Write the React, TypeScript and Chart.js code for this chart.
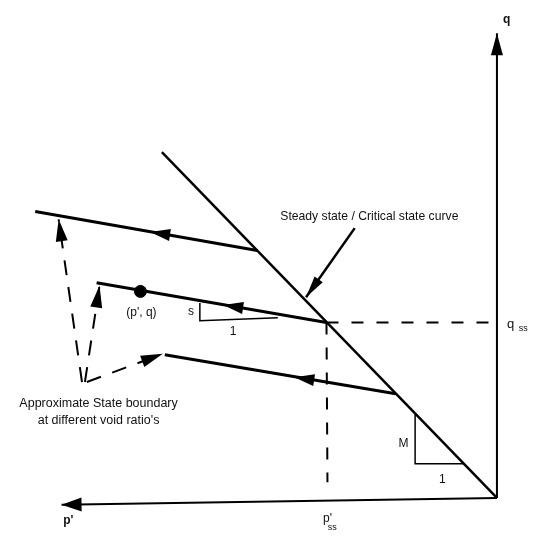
import React, { useEffect, useRef } from "react";
import { Chart, registerables } from "chart.js";

Chart.register(...registerables);

// Diagram coordinates: p' grows to the left from the origin, q grows upward.
const qAxis = [{ x: 0, y: 0 }, { x: 0, y: 477 }];
const pAxis = [{ x: 0, y: 0 }, { x: 447, y: -7 }];
const criticalStateLine = [{ x: 0, y: 0 }, { x: 344, y: 355 }];
const boundaryUpper = [{ x: 474, y: 294 }, { x: 246, y: 254 }];
const boundaryMiddle = [{ x: 411, y: 221 }, { x: 175, y: 180 }];
const boundaryLower = [{ x: 341, y: 147 }, { x: 104, y: 107 }];
const pathArrowUpper = [{ x: 336, y: 270 }, { x: 356, y: 273 }];
const pathArrowMiddle = [{ x: 261, y: 195 }, { x: 281, y: 198 }];
const pathArrowLower = [{ x: 188, y: 121 }, { x: 208, y: 124 }];
const statePoint = [{ x: 366, y: 212 }];
const qssLine = [{ x: 175, y: 180 }, { x: 8, y: 180 }];
const pssLine = [{ x: 175, y: 180 }, { x: 174, y: 16 }];
const slopeS = [{ x: 305, y: 200 }, { x: 305, y: 182 }, { x: 225, y: 185 }];
const slopeM = [{ x: 84, y: 86 }, { x: 84, y: 35 }, { x: 33, y: 35 }];
const vPoint = { x: 426, y: 119 };
const dashArrowUpper = [vPoint, { x: 450, y: 286 }];
const dashArrowMiddle = [{ x: 423, y: 119 }, { x: 408, y: 218 }];
const dashArrowLower = [{ x: 421, y: 119 }, { x: 343, y: 148 }];
const cslPointer = [{ x: 146, y: 277 }, { x: 196, y: 206 }];

const labelTexts = [
  "q", "p'", "q", "ss", "p'", "ss", "(p', q)", "s", "1", "M", "1",
  "Steady state / Critical state curve",
  "Approximate State boundary",
  "at different void ratio's",
];
const labelAnchors = [
  { x: -10, y: 491 }, { x: 440, y: -23 }, { x: -14, y: 178 }, { x: -27, y: 174 },
  { x: 174, y: -21 }, { x: 169, y: -30 }, { x: 365, y: 190 }, { x: 314, y: 191 },
  { x: 271, y: 171 }, { x: 96, y: 56 }, { x: 56, y: 19 },
  { x: 131, y: 289 }, { x: 409, y: 97 }, { x: 409, y: 79 },
];
const labelSizes = [12, 12, 13, 9, 12, 9, 12, 12, 12, 12, 12, 12.2, 12.5, 12.5];
const labelWeights = ["bold", "bold", "normal", "normal", "normal", "normal", "normal", "normal", "normal", "normal", "normal", "normal", "normal", "normal"];

const arrowPlugin = {
  id: "arrowHeads",
  afterDatasetsDraw(chart: any) {
    const ctx = chart.ctx;
    chart.data.datasets.forEach((ds: any, i: number) => {
      if (!ds.arrow) return;
      const meta = chart.getDatasetMeta(i);
      const pts = meta.data;
      if (pts.length < 2) return;
      const a = pts[pts.length - 2];
      const b = pts[pts.length - 1];
      const ang = Math.atan2(b.y - a.y, b.x - a.x);
      const len = ds.arrow.len;
      const hw = ds.arrow.hw;
      ctx.save();
      ctx.fillStyle = "#000";
      ctx.beginPath();
      ctx.moveTo(b.x, b.y);
      ctx.lineTo(b.x - len * Math.cos(ang) + hw * Math.sin(ang), b.y - len * Math.sin(ang) - hw * Math.cos(ang));
      ctx.lineTo(b.x - len * Math.cos(ang) - hw * Math.sin(ang), b.y - len * Math.sin(ang) + hw * Math.cos(ang));
      ctx.closePath();
      ctx.fill();
      ctx.restore();
    });
  },
};

const labelPlugin = {
  id: "diagramLabels",
  afterDraw(chart: any) {
    const ctx = chart.ctx;
    const xs = chart.scales.x;
    const ys = chart.scales.y;
    ctx.save();
    ctx.fillStyle = "#111";
    ctx.textAlign = "center";
    ctx.textBaseline = "middle";
    labelTexts.forEach((t, i) => {
      ctx.font = `${labelWeights[i]} ${labelSizes[i]}px "Liberation Sans", Arial, sans-serif`;
      ctx.fillText(t, xs.getPixelForValue(labelAnchors[i].x), ys.getPixelForValue(labelAnchors[i].y));
    });
    ctx.restore();
  },
};

function line(data: any[], width: number, extra: any = {}) {
  return {
    data,
    showLine: true,
    borderColor: "#000",
    backgroundColor: "#000",
    borderWidth: width,
    pointRadius: 0,
    fill: false,
    tension: 0,
    ...extra,
  };
}

export default function App() {
  const ref = useRef<HTMLCanvasElement>(null);
  useEffect(() => {
    if (!ref.current) return;
    const chart = new Chart(ref.current, {
      type: "scatter",
      data: {
        datasets: [
          line(qAxis, 2, { arrow: { len: 22, hw: 6 } }),
          line(pAxis, 2, { arrow: { len: 20, hw: 7 } }),
          line(criticalStateLine, 2.5),
          line(boundaryUpper, 3),
          line(boundaryMiddle, 3),
          line(boundaryLower, 3),
          line(pathArrowUpper, 0, { showLine: false, arrow: { len: 20, hw: 6 } }),
          line(pathArrowMiddle, 0, { showLine: false, arrow: { len: 20, hw: 6 } }),
          line(pathArrowLower, 0, { showLine: false, arrow: { len: 20, hw: 6 } }),
          line(qssLine, 2, { borderDash: [12, 13] }),
          line(pssLine, 2, { borderDash: [12, 13] }),
          line(slopeS, 1.5),
          line(slopeM, 1.5),
          line(dashArrowUpper, 2, { borderDash: [15, 12], arrow: { len: 22, hw: 6 } }),
          line(dashArrowMiddle, 2, { borderDash: [15, 12], arrow: { len: 22, hw: 6 } }),
          line(dashArrowLower, 2, { borderDash: [15, 12], arrow: { len: 22, hw: 6 } }),
          line(cslPointer, 2.5, { arrow: { len: 22, hw: 5 } }),
          {
            data: statePoint,
            showLine: false,
            pointRadius: 6,
            pointBackgroundColor: "#000",
            pointBorderColor: "#000",
          },
        ] as any,
      },
      options: {
        animation: false,
        responsive: false,
        maintainAspectRatio: false,
        layout: { padding: 0 },
        plugins: { legend: { display: false }, tooltip: { enabled: false } },
        scales: {
          x: { type: "linear", reverse: true, min: -36, max: 503, display: false },
          y: { type: "linear", min: -36, max: 504, display: false },
        },
      },
      plugins: [arrowPlugin, labelPlugin],
    });
    return () => chart.destroy();
  }, []);
  return (
    <div style={{ position: "fixed", left: 0, top: 0, width: 539, height: 540, background: "#fff" }}>
      <canvas ref={ref} width={539} height={540} style={{ display: "block" }} />
    </div>
  );
}
